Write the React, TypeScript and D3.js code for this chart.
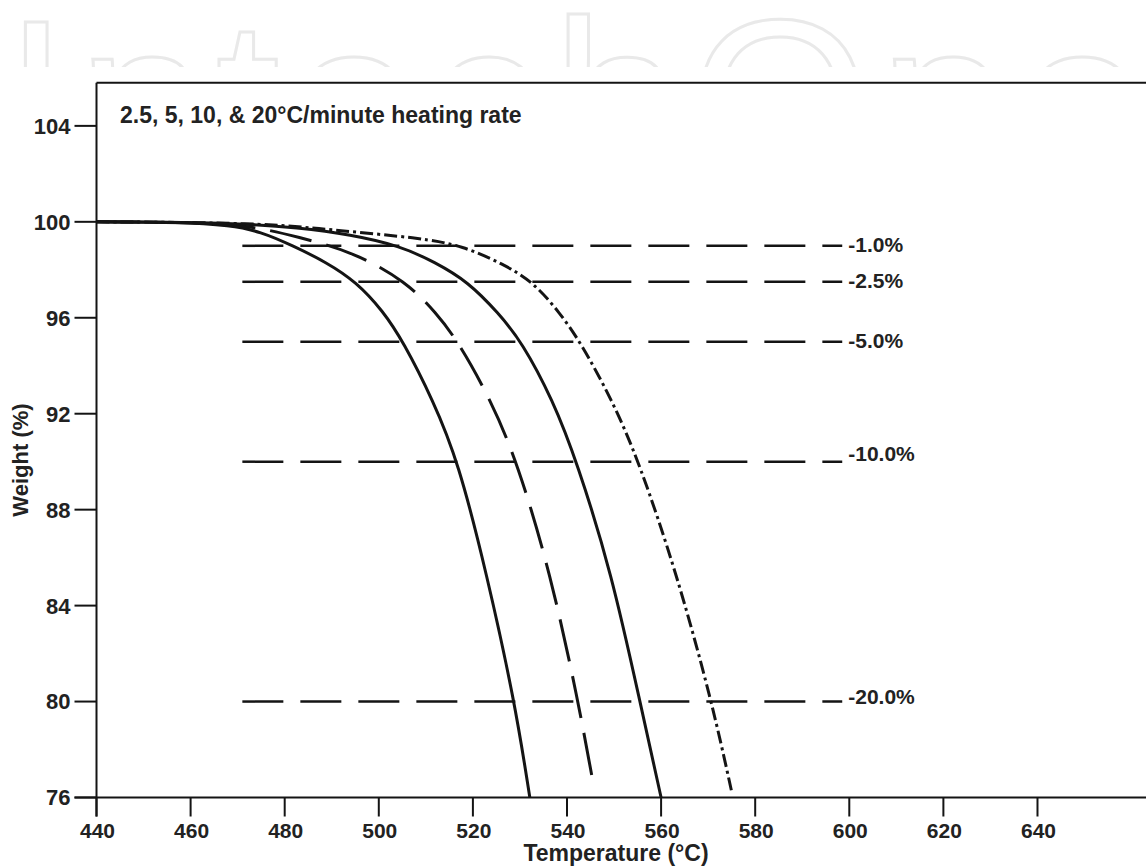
import React from 'react';
import * as d3 from 'd3';

// ---- data ----
const xTicks = [440, 460, 480, 500, 520, 540, 560, 580, 600, 620, 640];
const yTicks = [76, 80, 84, 88, 92, 96, 100, 104];

// 2.5 °C/min (solid)
const rate2_5Temp = [440, 458, 468.4, 474.8, 481.8, 488.8, 495.2, 500.9, 505.2, 511.5, 516.9, 522.9, 528.9, 532.1];
const rate2_5Weight = [100, 99.99, 99.85, 99.6, 99.0, 98.32, 97.5, 96.28, 95.0, 92.57, 90.0, 85.35, 80.0, 76.0];

// 5 °C/min (long dash)
const rate5Temp = [440, 462, 473.7, 482.6, 494.6, 505.9, 512.2, 516.9, 523.8, 529.4, 536.5, 542.4, 545.5];
const rate5Weight = [100, 99.98, 99.8, 99.38, 98.75, 97.5, 96.2, 95.0, 92.57, 90.0, 85.35, 80.0, 76.66];

// 10 °C/min (solid)
const rate10Temp = [440, 468.4, 483.3, 493.9, 504.5, 511.9, 519.0, 525.4, 530.4, 537.0, 542.1, 549.5, 555.5, 560.0];
const rate10Weight = [100, 99.98, 99.75, 99.47, 99.0, 98.32, 97.5, 96.2, 95.0, 92.57, 90.0, 85.35, 80.0, 76.0];

// 20 °C/min (dash-dot)
const rate20Temp = [440, 474.8, 489.6, 508.8, 517.9, 526.4, 532.8, 538.5, 542.8, 549.6, 555.3, 563.3, 570.8, 575.0];
const rate20Weight = [100, 99.96, 99.67, 99.33, 99.0, 98.24, 97.5, 96.2, 95.0, 92.57, 90.0, 85.35, 80.0, 76.24];

const refLevels = [99, 97.5, 95, 90, 80];
const refLabels = ['-1.0%', '-2.5%', '-5.0%', '-10.0%', '-20.0%'];
const refTempRange = [471, 598.5];

const titleText = '2.5, 5, 10, & 20°C/minute heating rate';
const xTitle = 'Temperature (°C)';
const yTitle = 'Weight (%)';
const watermark = 'IntechOpen';

// layout
const W = 1146;
const H = 868;
const FONT = '"Liberation Sans", Arial, Helvetica, sans-serif';
const INK = '#141414';
const TXT = '#222';
const labelLift = [1, 1, 1, 8, 5];

const series = [
  { temp: rate2_5Temp, weight: rate2_5Weight, dash: undefined as string | undefined },
  { temp: rate5Temp, weight: rate5Weight, dash: '43 15' },
  { temp: rate10Temp, weight: rate10Weight, dash: undefined as string | undefined },
  { temp: rate20Temp, weight: rate20Weight, dash: '13 4 3 4' },
];

export default function App() {
  const x = d3.scaleLinear().domain([440, 663]).range([96.5, 1145.7]);
  const y = d3.scaleLinear().domain([76, 105.8]).range([797.5, 82.7]);

  const line = d3
    .line<[number, number]>()
    .x((d) => x(d[0]))
    .y((d) => y(d[1]))
    .curve(d3.curveBasis);

  const [x0] = x.range();
  const [yb, yt] = y.range();

  return (
    <div style={{ position: 'absolute', left: 0, top: 0, width: W, height: H, background: '#fff' }}>
      {/* watermark strip (clipped letter tops) */}
      <div style={{ position: 'absolute', left: 0, top: 0, width: W, height: 67, overflow: 'hidden' }}>
        <svg width={W} height={260} style={{ display: 'block' }}>
          <text
            x={4}
            y={182}
            fontFamily={FONT}
            fontSize={232}
            fill="#fff"
            stroke="#e9e9e9"
            strokeWidth={3}
            letterSpacing={9}
          >
            {watermark}
          </text>
        </svg>
      </div>

      <svg
        width={W}
        height={H}
        viewBox={`0 0 ${W} ${H}`}
        style={{ display: 'block', position: 'absolute', left: 0, top: 0 }}
      >
        {/* frame */}
        <line x1={x0} x2={W} y1={yt} y2={yt} stroke={INK} strokeWidth={2} />
        <line x1={x0} x2={x0} y1={yt} y2={yb + 19} stroke={INK} strokeWidth={2} />
        <line x1={x0 - 22} x2={W} y1={yb} y2={yb} stroke={INK} strokeWidth={2} />

        {/* y ticks */}
        {yTicks.map((t) => (
          <g key={'y' + t}>
            <line x1={x0 - 22} x2={x0} y1={y(t)} y2={y(t)} stroke={INK} strokeWidth={2} />
            <text
              x={x0 - 26}
              y={y(t)}
              dy="0.36em"
              textAnchor="end"
              fontFamily={FONT}
              fontWeight="bold"
              fontSize={22}
              fill={TXT}
            >
              {t}
            </text>
          </g>
        ))}

        {/* x ticks */}
        {xTicks.map((t) => (
          <g key={'x' + t}>
            <line x1={x(t)} x2={x(t)} y1={yb} y2={yb + 19} stroke={INK} strokeWidth={2} />
            <text
              x={x(t) + 1}
              y={838}
              textAnchor="middle"
              fontFamily={FONT}
              fontWeight="bold"
              fontSize={21}
              fill={TXT}
            >
              {t}
            </text>
          </g>
        ))}

        {/* axis titles */}
        <text x={616} y={861} textAnchor="middle" fontFamily={FONT} fontWeight="bold" fontSize={23} fill={TXT}>
          {xTitle}
        </text>
        <text
          transform="translate(28, 460) rotate(-90)"
          textAnchor="middle"
          fontFamily={FONT}
          fontWeight="bold"
          fontSize={22}
          fill={TXT}
        >
          {yTitle}
        </text>

        {/* chart title */}
        <text x={120} y={123} fontFamily={FONT} fontWeight="bold" fontSize={23} fill={TXT}>
          {titleText}
        </text>

        {/* reference lines */}
        {refLevels.map((lv, i) => (
          <g key={'r' + lv}>
            <line
              x1={x(refTempRange[0])}
              x2={x(refTempRange[1])}
              y1={y(lv)}
              y2={y(lv)}
              stroke={INK}
              strokeWidth={2.5}
              strokeDasharray="41 17"
            />
            <text
              x={x(refTempRange[1]) + 6}
              y={y(lv) - labelLift[i]}
              dy="0.36em"
              fontFamily={FONT}
              fontWeight="bold"
              fontSize={21}
              fill={TXT}
            >
              {refLabels[i]}
            </text>
          </g>
        ))}

        {/* curves */}
        {series.map((s, i) => (
          <path
            key={'s' + i}
            d={line(s.temp.map((t, j) => [t, s.weight[j]] as [number, number])) || ''}
            fill="none"
            stroke={INK}
            strokeWidth={3}
            strokeLinejoin="round"
            strokeDasharray={s.dash}
          />
        ))}
      </svg>
    </div>
  );
}
